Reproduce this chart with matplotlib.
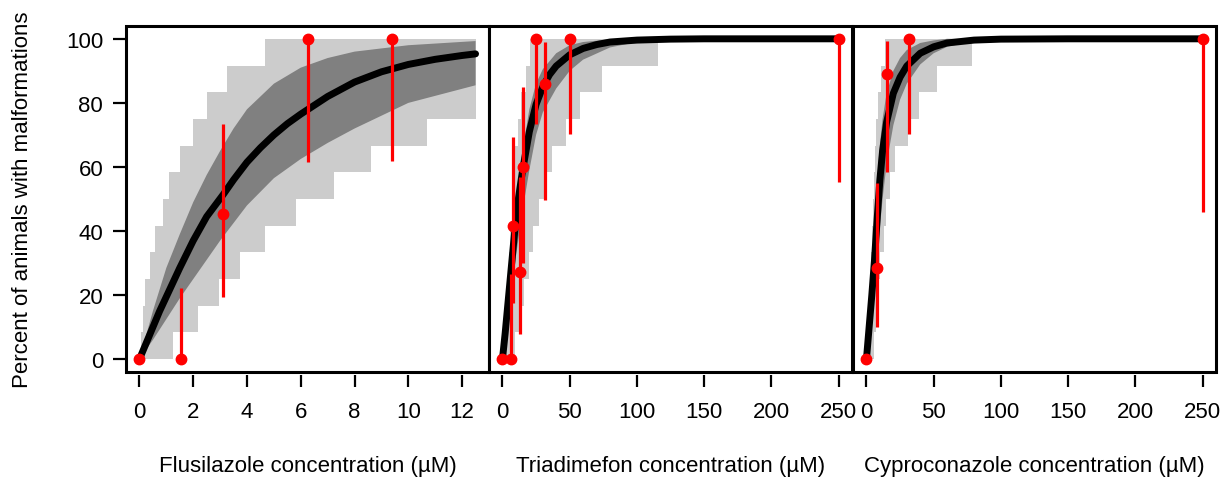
import numpy as np
import matplotlib
matplotlib.use('Agg')
import matplotlib.pyplot as plt
from matplotlib.patches import Rectangle

plt.rcParams['font.family'] = ['Liberation Sans', 'DejaVu Sans']

# ---------------- Flusilazole ----------------
flu_conc = [0, 1.56, 3.125, 6.25, 9.375]
flu_pct = [0, 0, 45.3, 100, 100]
flu_lo = [0, 0, 19.5, 61.6, 61.9]
flu_hi = [0, 22.1, 73.3, 100, 100]
flu_curve_x = [0, 0.25, 0.5, 0.75, 1, 1.5, 2, 2.5, 3.125, 3.5, 4, 4.5, 5, 5.5, 6, 7, 8, 9, 10, 11, 12, 12.5]
flu_curve_y = [0, 5, 10, 15, 19.5, 28.5, 37, 44.5, 51.5, 56, 61.5, 66, 70, 73.5, 76.5, 82, 86.5, 89.7, 92, 93.6, 94.8, 95.3]
flu_ci_up_x = [0, 0.5, 1, 1.5, 2, 2.5, 3, 3.5, 4, 5, 6, 7, 8, 10, 12.5]
flu_ci_up_y = [0, 15, 28.5, 39, 49, 57.5, 65, 72, 78, 86, 91, 94, 96, 98, 99.3]
flu_ci_lo_x = [0, 0.5, 1, 1.5, 2, 2.5, 3, 4, 5, 6, 7, 8, 10, 12.5]
flu_ci_lo_y = [0, 6, 12.5, 19, 25, 31, 37, 48, 56.5, 62.5, 67.5, 72, 80, 85.5]
flu_pi_up_x = [0.05, 0.12, 0.21, 0.40, 0.58, 0.87, 1.10, 1.51, 1.98, 2.50, 3.26, 4.68]
flu_pi_up_pct = [8.33, 16.67, 25, 33.33, 41.67, 50, 58.33, 66.67, 75, 83.33, 91.67, 100]
flu_pi_lo_x = [1.26, 2.19, 2.96, 3.73, 4.66, 5.83, 7.25, 8.61, 10.70]
flu_pi_lo_pct = [8.33, 16.67, 25, 33.33, 41.67, 50, 58.33, 66.67, 75]
flu_end = 12.5

# ---------------- Triadimefon ----------------
tri_conc = [0, 6.3, 8.0, 12.8, 15.4, 25.2, 32.0, 50.2, 250]
tri_pct = [0, 0, 41.6, 27.3, 60.0, 100, 85.8, 100, 100]
tri_lo = [0, 0, 17.6, 8.0, 29.9, 73.5, 49.6, 70.2, 55.3]
tri_hi = [0, 26.5, 69.4, 56.9, 85.0, 100, 99.0, 100, 100]
tri_curve_x = [0, 2, 4, 6, 8, 10, 12, 15, 20, 25, 30, 35, 40, 50, 60, 70, 80, 100, 125, 150, 200, 250]
tri_curve_y = [0, 8, 17, 26, 35, 43.5, 50.5, 59, 71, 79.5, 85, 88.8, 91.5, 95, 97, 98.2, 99, 99.6, 99.9, 100, 100, 100]
tri_ci_up_x = [0, 5, 10, 15, 20, 25, 30, 40, 50, 60, 80, 100]
tri_ci_up_y = [0, 25, 48, 65, 78, 86, 90.5, 95.5, 98, 99, 99.8, 100]
tri_ci_lo_x = [0, 5, 10, 15, 20, 25, 30, 40, 50, 60, 80, 100, 120, 150]
tri_ci_lo_y = [0, 15, 32, 46.5, 59, 70, 77, 84.5, 90, 93.5, 97.3, 99, 99.7, 100]
tri_pi_up_x = [2.5, 3.5, 4.5, 5.2, 5.8, 6.8, 8.0, 9.5, 11.5, 14.0, 17.4, 20.8]
tri_pi_up_pct = [8.33, 16.67, 25, 33.33, 41.67, 50, 58.33, 66.67, 75, 83.33, 91.67, 100]
tri_pi_lo_x = [9, 12.5, 16, 19.5, 23, 27.5, 32, 36.7, 47, 57.7, 73.8, 115.8]
tri_pi_lo_pct = [8.33, 16.67, 25, 33.33, 41.67, 50, 58.33, 66.67, 75, 83.33, 91.67, 100]
tri_end = 115.8

# ---------------- Cyproconazole ----------------
cyp_conc = [0, 7.7, 15.2, 31.7, 250]
cyp_pct = [0, 28.6, 89.0, 100, 100]
cyp_lo = [0, 10.2, 58.3, 70.2, 46.0]
cyp_hi = [0, 55.0, 99.2, 100, 100]
cyp_curve_x = [0, 2, 4, 6, 8, 10, 12, 15, 20, 25, 30, 40, 50, 60, 80, 100, 150, 250]
cyp_curve_y = [0, 10, 20, 31, 44, 56, 65, 74, 83, 88, 91.5, 95.5, 97.5, 98.7, 99.6, 99.9, 100, 100]
cyp_ci_up_x = [0, 2, 4, 6, 8, 10, 12, 15, 20, 25, 30, 40, 50, 60]
cyp_ci_up_y = [0, 14, 28, 42, 56, 67, 75, 83, 90, 94, 96.5, 98.7, 99.5, 100]
cyp_ci_lo_x = [0, 2, 4, 6, 8, 10, 12, 15, 20, 25, 30, 40, 50, 60, 80, 100]
cyp_ci_lo_y = [0, 7, 14, 22, 31, 41, 50, 61, 73, 81, 86, 92, 95.5, 97.5, 99.3, 99.9]
cyp_pi_up_x = [1.0, 1.8, 2.6, 3.4, 4.0, 4.7, 5.4, 6.2, 7.3, 8.5, 11.0, 14.0]
cyp_pi_up_pct = [8.33, 16.67, 25, 33.33, 41.67, 50, 58.33, 66.67, 75, 83.33, 91.67, 100]
cyp_pi_lo_x = [5.5, 7.4, 9.0, 10.4, 12.7, 14.9, 17.7, 21.4, 30.7, 38.8, 52.5, 78.6]
cyp_pi_lo_pct = [8.33, 16.67, 25, 33.33, 41.67, 50, 58.33, 66.67, 75, 83.33, 91.67, 100]
cyp_end = 78.6

y_ticks = [0, 20, 40, 60, 80, 100]
flu_xticks = [0, 2, 4, 6, 8, 10, 12]
other_xticks = [0, 50, 100, 150, 200, 250]
y_title = "Percent of animals with malformations"
x_titles = ["Flusilazole concentration (\u00b5M)",
            "Triadimefon concentration (\u00b5M)",
            "Cyproconazole concentration (\u00b5M)"]

LIGHT = '#CCCCCC'
DARK = '#808080'
RED = '#FF0000'
FS = 16

W, H = 1224, 481
fig = plt.figure(figsize=(W / 100, H / 100), dpi=100)


def ax_at(l, r, t, b):
    return fig.add_axes([l / W, 1 - b / H, (r - l) / W, (b - t) / H])


def step_vals(xs, jx, jp):
    out = []
    for x in xs:
        v = 0.0
        for a, p in zip(jx, jp):
            if x >= a:
                v = p
        out.append(v)
    return out


def panel(ax, cx, cy, ux, uy, lx, ly, pux, pup, plx, plp, pend,
          dx, dp, dlo, dhi, xlim, xticks, xtitle):
    grid = sorted(set([0.0] + list(pux) + list(plx) + [pend]))
    up = step_vals(grid, pux, pup)
    lo = step_vals(grid, plx, plp)
    ax.fill_between(grid, lo, up, step='post', color=LIGHT, lw=0, zorder=1)
    ax.fill(list(ux) + list(lx)[::-1], list(uy) + list(ly)[::-1],
            color=DARK, lw=0, zorder=2)
    ax.plot(cx, cy, color='black', lw=5, solid_capstyle='round',
            solid_joinstyle='round', zorder=3)
    ax.vlines(dx, dlo, dhi, color=RED, lw=2.3, zorder=4)
    ax.plot(dx, dp, 'o', color=RED, ms=7.5, mec=RED, zorder=5, clip_on=False)
    ax.set_xlim(*xlim)
    ax.set_ylim(-4, 104)
    for s in ax.spines.values():
        s.set_visible(False)
    ax.spines['bottom'].set_position(('outward', 2.2))
    ax.add_patch(Rectangle((0, 0), 1, 1, transform=ax.transAxes, fill=False,
                           lw=2.2, ec='black', clip_on=False, zorder=10))
    ax.set_xticks(xticks)
    ax.set_xticklabels([str(t) for t in xticks])
    ax.tick_params(axis='x', length=8.6, width=1.6, pad=10, labelsize=FS)
    ax.set_xlabel(xtitle, fontsize=FS)
    ax.xaxis.set_label_coords(0.5, -0.24)


ax1 = ax_at(126, 489, 27, 373)
ax2 = ax_at(489, 852, 27, 373)
ax3 = ax_at(853, 1216, 27, 373)

panel(ax1, flu_curve_x, flu_curve_y, flu_ci_up_x, flu_ci_up_y, flu_ci_lo_x, flu_ci_lo_y,
      flu_pi_up_x, flu_pi_up_pct, flu_pi_lo_x, flu_pi_lo_pct, flu_end,
      flu_conc, flu_pct, flu_lo, flu_hi, (-0.5, 13.0), flu_xticks, x_titles[0])
panel(ax2, tri_curve_x, tri_curve_y, tri_ci_up_x, tri_ci_up_y, tri_ci_lo_x, tri_ci_lo_y,
      tri_pi_up_x, tri_pi_up_pct, tri_pi_lo_x, tri_pi_lo_pct, tri_end,
      tri_conc, tri_pct, tri_lo, tri_hi, (-10, 260), other_xticks, x_titles[1])
panel(ax3, cyp_curve_x, cyp_curve_y, cyp_ci_up_x, cyp_ci_up_y, cyp_ci_lo_x, cyp_ci_lo_y,
      cyp_pi_up_x, cyp_pi_up_pct, cyp_pi_lo_x, cyp_pi_lo_pct, cyp_end,
      cyp_conc, cyp_pct, cyp_lo, cyp_hi, (-10, 260), other_xticks, x_titles[2])

ax1.set_yticks(y_ticks)
ax1.set_yticklabels([str(t) for t in y_ticks])
ax1.tick_params(axis='y', length=9.4, width=1.6, pad=7, labelsize=FS)
ax1.set_ylabel(y_title, fontsize=FS, va='center')
ax1.yaxis.set_label_coords((23 - 126) / 363, 0.5)
for a in (ax2, ax3):
    a.set_yticks([])

fig.savefig('out.png', dpi=100)
